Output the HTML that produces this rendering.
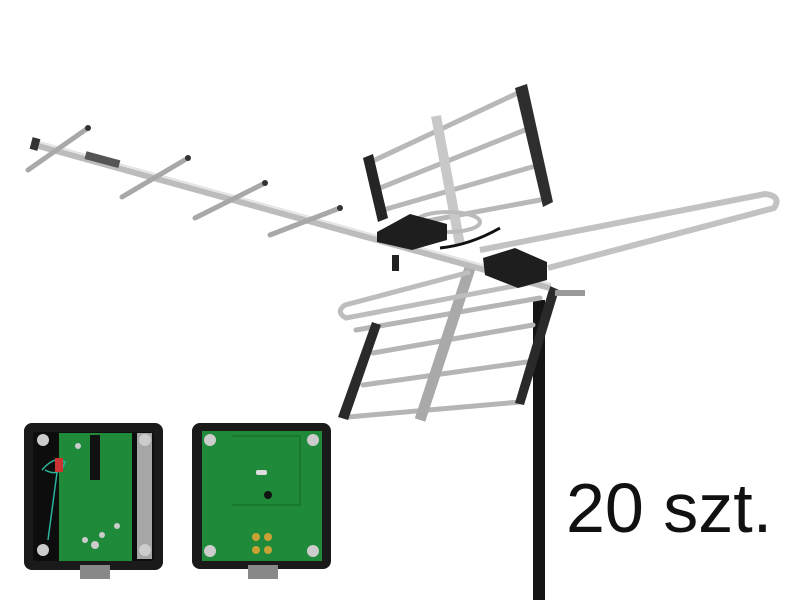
<!DOCTYPE html>
<html><head><style>
html,body{margin:0;padding:0;background:#fff;width:800px;height:600px;overflow:hidden}
.t{position:absolute;left:566px;top:468px;font-family:"Liberation Sans",sans-serif;font-size:70px;font-weight:300;color:#111;letter-spacing:0px}
</style></head><body>
<svg width="800" height="600" viewBox="0 0 800 600" style="position:absolute;left:0;top:0">
<rect x="533" y="300" width="12" height="300" fill="#151515"/>
<g stroke="#b5b5b5" stroke-width="5" stroke-linecap="round">
<line x1="356" y1="330" x2="540" y2="298"/>
<line x1="373" y1="353" x2="533" y2="325"/>
<line x1="363" y1="385" x2="527" y2="362"/>
<line x1="348" y1="417" x2="520" y2="402"/>
</g>
<line x1="470" y1="268" x2="420" y2="420" stroke="#a9a9a9" stroke-width="11"/>
<polygon points="372,322 381,325 348,420 338,417" fill="#2a2a2a"/>
<polygon points="550,286 559,290 524,405 515,403" fill="#2a2a2a"/>
<path d="M470,272 L345,305 Q335,312 346,318 L530,283" fill="none" stroke="#bdbdbd" stroke-width="5"/>
<g stroke="#b8b8b8" stroke-width="5" stroke-linecap="round">
<line x1="375" y1="160" x2="520" y2="92"/>
<line x1="380" y1="188" x2="525" y2="130"/>
<line x1="383" y1="210" x2="532" y2="167"/>
<line x1="400" y1="226" x2="540" y2="200"/>
</g>
<polygon points="363,158 373,154 388,218 378,222" fill="#252525"/>
<polygon points="515,88 527,84 553,202 543,207" fill="#2e2e2e"/>
<line x1="436" y1="116" x2="460" y2="245" stroke="#c8c8c8" stroke-width="10"/>
<ellipse cx="448" cy="222" rx="32" ry="10" fill="none" stroke="#bbb" stroke-width="4"/>
<path d="M480,250 L765,194 Q782,196 774,208 L548,268" fill="none" stroke="#c2c2c2" stroke-width="6"/>
<line x1="35" y1="144" x2="550" y2="287" stroke="#bcbcbc" stroke-width="8"/>
<line x1="35" y1="141" x2="550" y2="284" stroke="#e6e6e6" stroke-width="2"/>
<rect x="31" y="138" width="8" height="12" fill="#333" transform="rotate(15 35 144)"/>
<rect x="85" y="155" width="35" height="8" fill="#555" transform="rotate(15 100 159)"/>
<g stroke="#a8a8a8" stroke-width="5" stroke-linecap="round">
<line x1="28" y1="170" x2="88" y2="128"/>
<line x1="122" y1="197" x2="188" y2="158"/>
<line x1="195" y1="218" x2="265" y2="183"/>
<line x1="270" y1="235" x2="340" y2="208"/>
</g>
<g fill="#333"><circle cx="88" cy="128" r="3"/><circle cx="188" cy="158" r="3"/><circle cx="265" cy="183" r="3"/><circle cx="340" cy="208" r="3"/></g>
<polygon points="377,232 410,214 447,224 447,240 412,250 377,242" fill="#1e1e1e"/>
<polygon points="483,258 515,248 547,262 547,280 518,288 485,275" fill="#1e1e1e"/>
<path d="M440,248 Q470,245 500,228" fill="none" stroke="#111" stroke-width="3"/>
<rect x="392" y="255" width="7" height="16" fill="#222"/>
<rect x="555" y="290" width="30" height="6" fill="#999"/>
<rect x="24" y="423" width="139" height="147" rx="8" fill="#1a1a1a"/>
<rect x="33" y="432" width="121" height="129" rx="3" fill="#0d0d0d"/>
<rect x="59" y="433" width="73" height="128" fill="#1f8a3a"/>
<rect x="137" y="433" width="15" height="126" fill="#a6a6a6"/>
<rect x="90" y="435" width="10" height="45" fill="#111"/>
<g fill="#ccc"><circle cx="43" cy="440" r="6"/><circle cx="43" cy="550" r="6"/><circle cx="145" cy="440" r="6"/><circle cx="145" cy="550" r="6"/><circle cx="95" cy="545" r="4"/><circle cx="85" cy="540" r="3"/><circle cx="102" cy="535" r="3"/><circle cx="78" cy="446" r="3"/><circle cx="117" cy="526" r="3"/></g>
<path d="M42,470 Q55,455 65,462 Q60,478 45,470 M58,465 L48,540" fill="none" stroke="#2bb39c" stroke-width="1.5"/>
<rect x="55" y="458" width="8" height="14" fill="#c33"/>
<rect x="80" y="565" width="30" height="14" fill="#888"/>
<rect x="192" y="423" width="139" height="146" rx="8" fill="#1a1a1a"/>
<rect x="202" y="431" width="120" height="130" fill="#1f8a3a"/>
<path d="M232,436 L300,436 L300,505 L232,505" fill="none" stroke="#177a30" stroke-width="2"/>
<rect x="256" y="470" width="11" height="5" rx="2" fill="#ddd"/>
<circle cx="268" cy="495" r="4" fill="#111"/>
<g fill="#ccc"><circle cx="210" cy="440" r="6"/><circle cx="210" cy="551" r="6"/><circle cx="313" cy="440" r="6"/><circle cx="313" cy="551" r="6"/></g>
<g fill="#c9a235"><circle cx="256" cy="537" r="4"/><circle cx="268" cy="537" r="4"/><circle cx="256" cy="550" r="4"/><circle cx="268" cy="550" r="4"/></g>
<rect x="248" y="565" width="30" height="14" fill="#888"/>
</svg>
<div class="t">20 szt.</div>
</body></html>
